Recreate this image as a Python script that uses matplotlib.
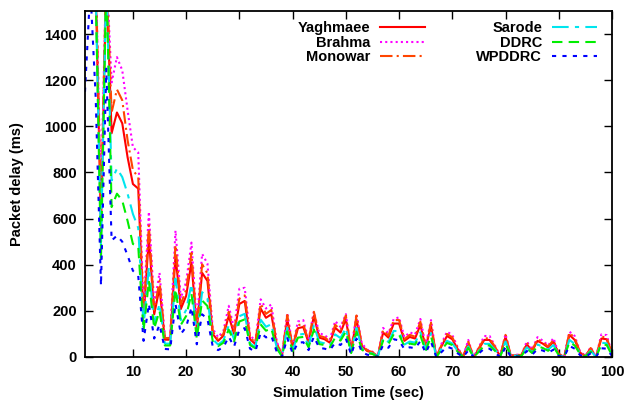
import numpy as np
import matplotlib
matplotlib.use("Agg")
import matplotlib.pyplot as plt

# simulation time, one sample per second
t = np.arange(1, 101)

yaghmaee = [1650, 1650, 1620, 560, 1650, 970, 1060, 1013, 866, 750,
            730, 170, 520, 185, 300, 75, 75, 440, 208, 265,
            410, 121, 365, 330, 100, 70, 92, 178, 100, 230,
            243, 77, 56, 210, 170, 185, 56, 5, 165, 38,
            125, 130, 62, 178, 84, 77, 62, 127, 106, 164,
            26, 164, 48, 26, 19, 2, 106, 84, 145, 145,
            70, 87, 80, 139, 41, 135, 0, 48, 91, 77,
            35, 0, 60, 0, 35, 74, 74, 41, 4, 87,
            5, 8, 8, 55, 26, 70, 58, 41, 67, 12,
            0, 96, 74, 19, 4, 35, 0, 80, 77, 12]

brahma = [1700, 1700, 1700, 680, 1700, 1190, 1300, 1243, 1070, 909,
          887, 210, 630, 225, 365, 90, 92, 548, 255, 325,
          496, 150, 447, 405, 122, 86, 113, 222, 122, 296,
          300, 95, 69, 250, 210, 228, 69, 7, 191, 47,
          154, 160, 76, 197, 103, 95, 76, 156, 130, 186,
          32, 186, 59, 32, 23, 3, 126, 103, 165, 172,
          86, 107, 98, 165, 50, 160, 0, 59, 110, 95,
          43, 0, 74, 0, 43, 91, 91, 50, 5, 100,
          6, 10, 10, 68, 32, 86, 71, 50, 82, 15,
          0, 110, 91, 23, 5, 43, 0, 98, 95, 15]

monowar = [1700, 1700, 1700, 620, 1700, 1060, 1160, 1113, 940, 810,
           780, 188, 570, 203, 330, 82, 83, 485, 229, 292,
           451, 133, 402, 363, 110, 77, 101, 196, 110, 253,
           267, 85, 62, 231, 187, 204, 62, 6, 182, 42,
           138, 143, 68, 196, 92, 85, 68, 140, 117, 180,
           29, 180, 53, 29, 21, 2, 117, 92, 160, 160,
           77, 96, 88, 153, 45, 149, 0, 53, 100, 85,
           39, 0, 66, 0, 39, 81, 81, 45, 4, 96,
           6, 9, 9, 61, 29, 77, 64, 45, 74, 13,
           0, 106, 81, 21, 4, 39, 0, 88, 85, 13]

sarode = [1650, 1650, 1600, 470, 1650, 765, 817, 780, 708, 620,
          560, 130, 390, 142, 230, 58, 58, 340, 160, 204,
          316, 93, 281, 254, 77, 54, 71, 137, 77, 177,
          187, 59, 43, 162, 131, 142, 43, 4, 127, 29,
          96, 100, 48, 137, 65, 59, 48, 98, 82, 126,
          20, 126, 37, 20, 15, 2, 82, 65, 113, 112,
          54, 67, 62, 107, 32, 104, 0, 37, 70, 59,
          27, 0, 46, 0, 27, 57, 57, 32, 3, 67,
          4, 6, 6, 42, 20, 54, 45, 32, 52, 9,
          0, 74, 57, 15, 3, 27, 0, 62, 59, 9]

ddrc = [1650, 1650, 1600, 420, 1650, 650, 708, 678, 590, 490,
        480, 114, 330, 124, 200, 50, 50, 295, 139, 178,
        275, 81, 245, 221, 67, 47, 62, 119, 67, 154,
        163, 52, 38, 141, 114, 124, 38, 3, 111, 25,
        84, 87, 42, 119, 56, 52, 42, 85, 71, 110,
        17, 110, 32, 17, 13, 1, 71, 56, 99, 97,
        47, 58, 54, 93, 27, 90, 0, 32, 61, 52,
        23, 0, 40, 0, 23, 50, 50, 27, 3, 58,
        3, 5, 5, 37, 17, 47, 39, 27, 45, 8,
        0, 64, 50, 13, 3, 23, 0, 54, 52, 8]

wpddrc = [1150, 1600, 1130, 310, 1250, 505, 526, 500, 440, 374,
          352, 70, 230, 80, 140, 35, 33, 230, 100, 130,
          215, 55, 185, 165, 45, 30, 42, 88, 45, 118,
          125, 36, 24, 105, 85, 92, 24, 0, 82, 16,
          62, 64, 30, 88, 40, 36, 30, 62, 52, 80,
          10, 80, 22, 10, 7, 0, 52, 40, 77, 72,
          34, 42, 38, 68, 18, 66, 0, 22, 45, 36,
          16, 0, 28, 0, 16, 36, 36, 18, 0, 42,
          0, 2, 2, 26, 10, 34, 28, 18, 32, 4,
          0, 48, 36, 8, 0, 16, 0, 38, 36, 4]

xticks = list(range(10, 101, 10))
yticks = list(range(0, 1401, 200))

plt.rcParams['font.family'] = ['Liberation Sans', 'DejaVu Sans']
plt.rcParams['font.weight'] = 'bold'

fig = plt.figure(figsize=(6.27, 4.05), dpi=100)
ax = fig.add_axes([85 / 627, 48 / 405, 527 / 627, 346 / 405])

lw = 1.5
ax.plot(t, yaghmaee, color='#ff0000', lw=lw, label='Yaghmaee')
ax.plot(t, brahma, color='#ff00ff', lw=lw, ls=(0, (1, 1.5)), label='Brahma')
ax.plot(t, monowar, color='#ff4500', lw=lw, ls=(0, (6, 2, 1, 2)), label='Monowar')
ax.plot(t, sarode, color='#00e5ee', lw=lw, ls=(0, (8, 3, 2, 3)), label='Sarode')
ax.plot(t, ddrc, color='#00ee00', lw=lw, ls=(0, (5, 3)), label='DDRC')
ax.plot(t, wpddrc, color='#0000ff', lw=lw, ls=(0, (2, 3)), label='WPDDRC')

ax.set_xlim(1, 100)
ax.set_ylim(0, 1500)
ax.set_xticks(xticks)
ax.set_yticks(yticks)
ax.tick_params(direction='in', length=6, width=1, top=True, right=True,
               labelsize=10.5, pad=6)
for s in ax.spines.values():
    s.set_linewidth(1.3)

ax.set_xlabel('Simulation Time (sec)', fontsize=10.5, fontweight='bold', labelpad=5)
ax.set_ylabel('Packet delay (ms)', fontsize=10.5, fontweight='bold', labelpad=14)

ax.legend(ncol=2, markerfirst=False, frameon=False, fontsize=10.5,
          loc='upper right', bbox_to_anchor=(597 / 627, 1 - 21 / 405),
          bbox_transform=fig.transFigure, borderaxespad=0, borderpad=0,
          handlelength=3.1, handletextpad=0.65, columnspacing=3.5,
          labelspacing=0.05)

fig.savefig('out.png', dpi=100)
